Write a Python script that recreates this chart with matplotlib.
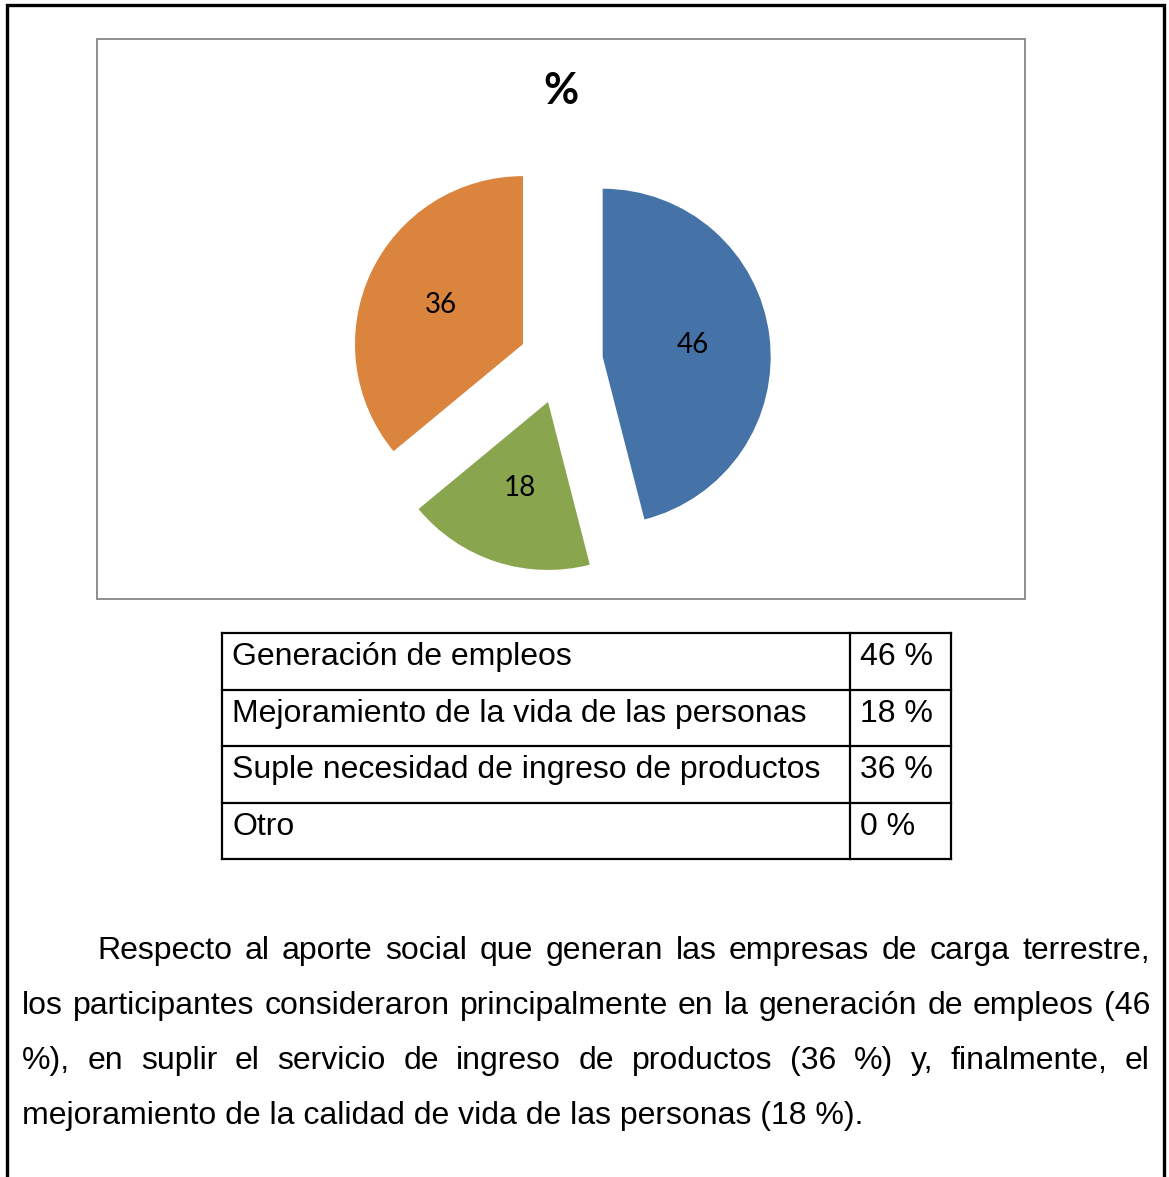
import matplotlib
matplotlib.use("Agg")
import matplotlib.pyplot as plt
from matplotlib.patches import Rectangle

W, H = 1169, 1177

# datos del grafico
valores = [46, 18, 36]
colores = ['#4572A7', '#89A54E', '#DB843D']
titulo = '%'

# tabla
categorias = ['Generación de empleos',
              'Mejoramiento de la vida de las personas',
              'Suple necesidad de ingreso de productos',
              'Otro']
porcentajes = ['46 %', '18 %', '36 %', '0 %']

# parrafo (lineas tal como aparecen)
lineas = ['Respecto al aporte social que generan las empresas de carga terrestre,',
          'los participantes consideraron principalmente en la generación de empleos (46',
          '%), en suplir el servicio de ingreso de productos (36 %) y, finalmente, el',
          'mejoramiento de la calidad de vida de las personas (18 %).']

FS = 23
fig = plt.figure(figsize=(W / 100, H / 100), dpi=100)

# capa de fondo en pixeles
bg = fig.add_axes([0, 0, 1, 1])
bg.set_xlim(0, W)
bg.set_ylim(H, 0)
bg.axis('off')

# marco exterior (sin borde inferior)
bg.plot([7, 7, 1164, 1164], [H + 5, 5, 5, H + 5], color='black', lw=2.4,
        solid_joinstyle='miter')
# marco del grafico
bg.add_patch(Rectangle((97, 39), 928, 560, fill=False, edgecolor='#868686', lw=1.3))
bg.text(561, 91, titulo, ha='center', va='center', fontsize=31,
        fontweight='bold', family='Lato')

# pie
cx, cy, r = 561, 362, 168
half = 1.4 * r
ax = fig.add_axes([(cx - half) / W, 1 - (cy + half) / H, 2 * half / W, 2 * half / H])
ax.pie(valores, colors=colores, startangle=90, counterclock=False,
       explode=[0.25] * len(valores), radius=1,
       autopct=lambda p: f'{round(p)}', pctdistance=0.54,
       textprops={'fontsize': 20, 'family': 'Lato', 'color': 'black'},
       wedgeprops={'linewidth': 0})
ax.set_xlim(-1.4, 1.4)
ax.set_ylim(-1.4, 1.4)
ax.set_aspect('equal')
ax.axis('off')

# tabla
xs = [222, 850, 951]
ys = [633, 690, 746, 803, 859]
for y in ys:
    bg.plot([xs[0], xs[-1]], [y, y], color='black', lw=1.6, solid_capstyle='projecting')
for x in xs:
    bg.plot([x, x], [ys[0], ys[-1]], color='black', lw=1.6, solid_capstyle='projecting')
for i, (cat, pct) in enumerate(zip(categorias, porcentajes)):
    base = ys[i] + 32
    bg.text(xs[0] + 10, base, cat, ha='left', va='baseline', fontsize=FS,
            family='Liberation Sans')
    bg.text(xs[1] + 10, base, pct, ha='left', va='baseline', fontsize=FS,
            family='Liberation Sans')

# parrafo justificado
renderer = fig.canvas.get_renderer()
izq, der = 22, 1150
bases = [959, 1014, 1069, 1124]
for i, (linea, base) in enumerate(zip(lineas, bases)):
    x0 = 97 if i == 0 else izq
    if i == len(lineas) - 1:
        bg.text(x0, base, linea, ha='left', va='baseline', fontsize=FS,
                family='Liberation Sans')
        continue
    palabras = linea.split()
    objs = [bg.text(0, base, p, ha='left', va='baseline', fontsize=FS,
                    family='Liberation Sans') for p in palabras]
    anchos = [o.get_window_extent(renderer).width for o in objs]
    hueco = (der - x0 - sum(anchos)) / (len(palabras) - 1)
    x = x0
    for o, a in zip(objs, anchos):
        o.set_x(x)
        x += a + hueco

fig.savefig('out.png', dpi=100)
